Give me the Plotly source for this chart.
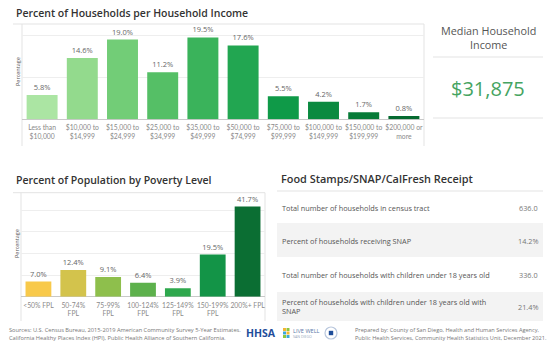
import plotly.graph_objects as go

W, H = 550, 348
def X(px): return px / W
def Y(py): return 1 - py / H

FONT = "Open Sans"
TICKFONT = "Lato"

# ---------------- data ----------------
income_cats = ["Less than<br>$10,000", "$10,000 to<br>$14,999", "$15,000 to<br>$24,999",
               "$25,000 to<br>$34,999", "$35,000 to<br>$49,999", "$50,000 to<br>$74,999",
               "$75,000 to<br>$99,999", "$100,000 to<br>$149,999", "$150,000 to<br>$199,999",
               "$200,000 or<br>more"]
income_pct = [5.8, 14.6, 19.0, 11.2, 19.5, 17.6, 5.5, 4.2, 1.7, 0.8]
income_colors = ["#ABE5A3", "#93DA8D", "#72CD77", "#55BF66", "#3AB35B", "#22A651",
                 "#0F9A48", "#0A8A40", "#077B38", "#056A30"]

pov_cats = ["&lt;50% FPL", "50-74%<br>FPL", "75-99%<br>FPL", "100-124%<br>FPL",
            "125-149%<br>FPL", "150-199%<br>FPL", "200%+ FPL"]
pov_pct = [7.0, 12.4, 9.1, 6.4, 3.9, 19.5, 41.7]
pov_colors = ["#F8C94A", "#D3C34C", "#8EBF4C", "#5DB14C", "#2EA84D", "#139447", "#0B6E33"]

median_income = "$31,875"

snap_labels = ["Total number of households in census tract",
               "Percent of households receiving SNAP",
               "Total number of households with children under 18 years old",
               "Percent of households with children under 18 years old with<br>SNAP"]
snap_values = ["636.0", "14.2%", "336.0", "21.4%"]

fig = go.Figure()

fig.add_trace(go.Bar(
    x=income_cats, y=income_pct, marker=dict(color=income_colors, line=dict(width=0)),
    width=0.77, text=[f"{v:.1f}%" for v in income_pct], textposition="outside",
    textfont=dict(size=7.5, color="#666", family=FONT), cliponaxis=False,
    xaxis="x", yaxis="y", hoverinfo="skip"))

fig.add_trace(go.Bar(
    x=pov_cats, y=pov_pct, marker=dict(color=pov_colors, line=dict(width=0)),
    width=0.74, text=[f"{v:.1f}%" for v in pov_pct], textposition="outside",
    textfont=dict(size=7.5, color="#666", family=FONT), cliponaxis=False,
    xaxis="x2", yaxis="y2", hoverinfo="skip"))

axis_common = dict(showline=False, ticks="", tickangle=0, ticklabelstandoff=3,
                   tickfont=dict(size=6.8, color="#8a8a8a", family=TICKFONT),
                   fixedrange=True, automargin=False)
yaxis_common = dict(showticklabels=False, showgrid=True, gridcolor="#EEEEEE", gridwidth=1,
                    zeroline=True, zerolinecolor="#C9C9C9", zerolinewidth=1, dtick=10,
                    showline=False, ticks="", fixedrange=True)

fig.update_layout(
    width=W, height=H, margin=dict(l=0, r=0, t=0, b=0),
    paper_bgcolor="white", plot_bgcolor="white", showlegend=False,
    font=dict(family=FONT, color="#555"),
    xaxis=dict(domain=[X(22), X(424)], anchor="y", range=[-0.5, 9.5], **axis_common),
    yaxis=dict(domain=[Y(119.3), Y(24)], anchor="x", range=[0, 22.7], **yaxis_common),
    xaxis2=dict(domain=[X(21), X(265)], anchor="y2", range=[-0.5, 6.5], **axis_common),
    yaxis2=dict(domain=[Y(296.7), Y(192.7)], anchor="x2", range=[0, 48.1], **yaxis_common),
)

shapes = []
def line(x0, y0, x1, y1, color="#E3E3E3", w=1):
    shapes.append(dict(type="line", xref="paper", yref="paper", x0=X(x0), y0=Y(y0),
                       x1=X(x1), y1=Y(y1), line=dict(color=color, width=w), layer="below"))
def rect(x0, y0, x1, y1, fill, layer="below"):
    shapes.append(dict(type="rect", xref="paper", yref="paper", x0=X(x0), y0=Y(y0),
                       x1=X(x1), y1=Y(y1), fillcolor=fill,
                       line=dict(width=0), layer=layer))

# chart frames
line(13, 24, 424, 24); line(424, 24, 424, 146); line(22, 24, 22, 146)
line(13, 192.7, 265, 192.7); line(265, 192.7, 265, 321); line(21, 192.7, 21, 321)
# median panel rules
line(433, 57, 543, 57); line(433, 118, 543, 118)
# snap table
line(277, 191, 543, 191)
rect(277, 223, 543, 257, "#F3F3F3")
rect(277, 292, 543, 321, "#F3F3F3")

# LIVE WELL icon tiles
tiles = [(283, 328, "#F2B632"), (286.5, 328, "#8DC63F"), (283, 331.5, "#3BA8DB"),
         (286.5, 331.5, "#F2B632"), (283, 335, "#8DC63F"), (286.5, 335, "#3BA8DB")]
for tx, ty, tc in tiles:
    rect(tx, ty, tx + 3, ty + 3, tc, layer="above")
# circle logo
shapes.append(dict(type="circle", xref="paper", yref="paper", x0=X(325), y0=Y(327),
                   x1=X(337), y1=Y(339), line=dict(color="#B9C7DD", width=1.2),
                   fillcolor="white", layer="above"))
rect(328.8, 330.8, 333.2, 335.2, "#1F4E9A", layer="above")
fig.update_layout(shapes=shapes)

ann = []
def text(x, y, s, size, color="#555", xanchor="left", weight=400, angle=0):
    ann.append(dict(x=X(x), y=Y(y), xref="paper", yref="paper", text=s, showarrow=False,
                    xanchor=xanchor, yanchor="middle", textangle=angle,
                    font=dict(size=size, color=color, family=FONT, weight=weight),
                    align="left" if xanchor == "left" else ("right" if xanchor == "right" else "center")))

text(14, 13, "Percent of Households per Household Income", 10.5, "#333", weight=600)
text(14, 180, "Percent of Population by Poverty Level", 10.5, "#333", weight=600)
text(279, 178, "Food Stamps/SNAP/CalFresh Receipt", 10.9, "#333", weight=600)
text(18, 72, "Percentage", 5.5, "#555", xanchor="center", angle=-90)
text(17, 244, "Percentage", 5.5, "#555", xanchor="center", angle=-90)

text(488, 30, "Median Household", 10.8, "#555", xanchor="center", weight=500)
text(488, 45, "Income", 10.8, "#555", xanchor="center", weight=500)
text(488, 88, median_income, 20, "#45A461", xanchor="center")

row_y = [208, 240.7, 275, 306.5]
for lab, val, ry in zip(snap_labels, snap_values, row_y):
    text(280, ry, lab, 7.3, "#555")
    text(540, ry, val, 7.3, "#777", xanchor="right")

text(7, 329.5, "Sources: U.S. Census Bureau, 2015-2019 American Community Survey 5-Year Estimates.", 5.7, "#777")
text(7, 337.5, "California Healthy Places Index (HPI), Public Health Alliance of Southern California.", 5.7, "#777")
text(353, 329.5, "Prepared by: County of San Diego, Health and Human Services Agency,", 5.6, "#777")
text(353, 337.5, "Public Health Services, Community Health Statistics Unit, December 2021.", 5.6, "#777")

text(244, 333, "<b>HHSA</b>", 10.5, "#1F4E9A", weight=700)
text(290.5, 330.5, "LIVE WELL", 5.6, "#5B7AA6")
text(291, 336, "SAN DIEGO", 3.6, "#9AA9BE")

fig.update_layout(annotations=ann)
fig.write_html("out.html", config={"displayModeBar": False},
               post_script="document.body.style.margin='0';document.body.style.padding='0';")
